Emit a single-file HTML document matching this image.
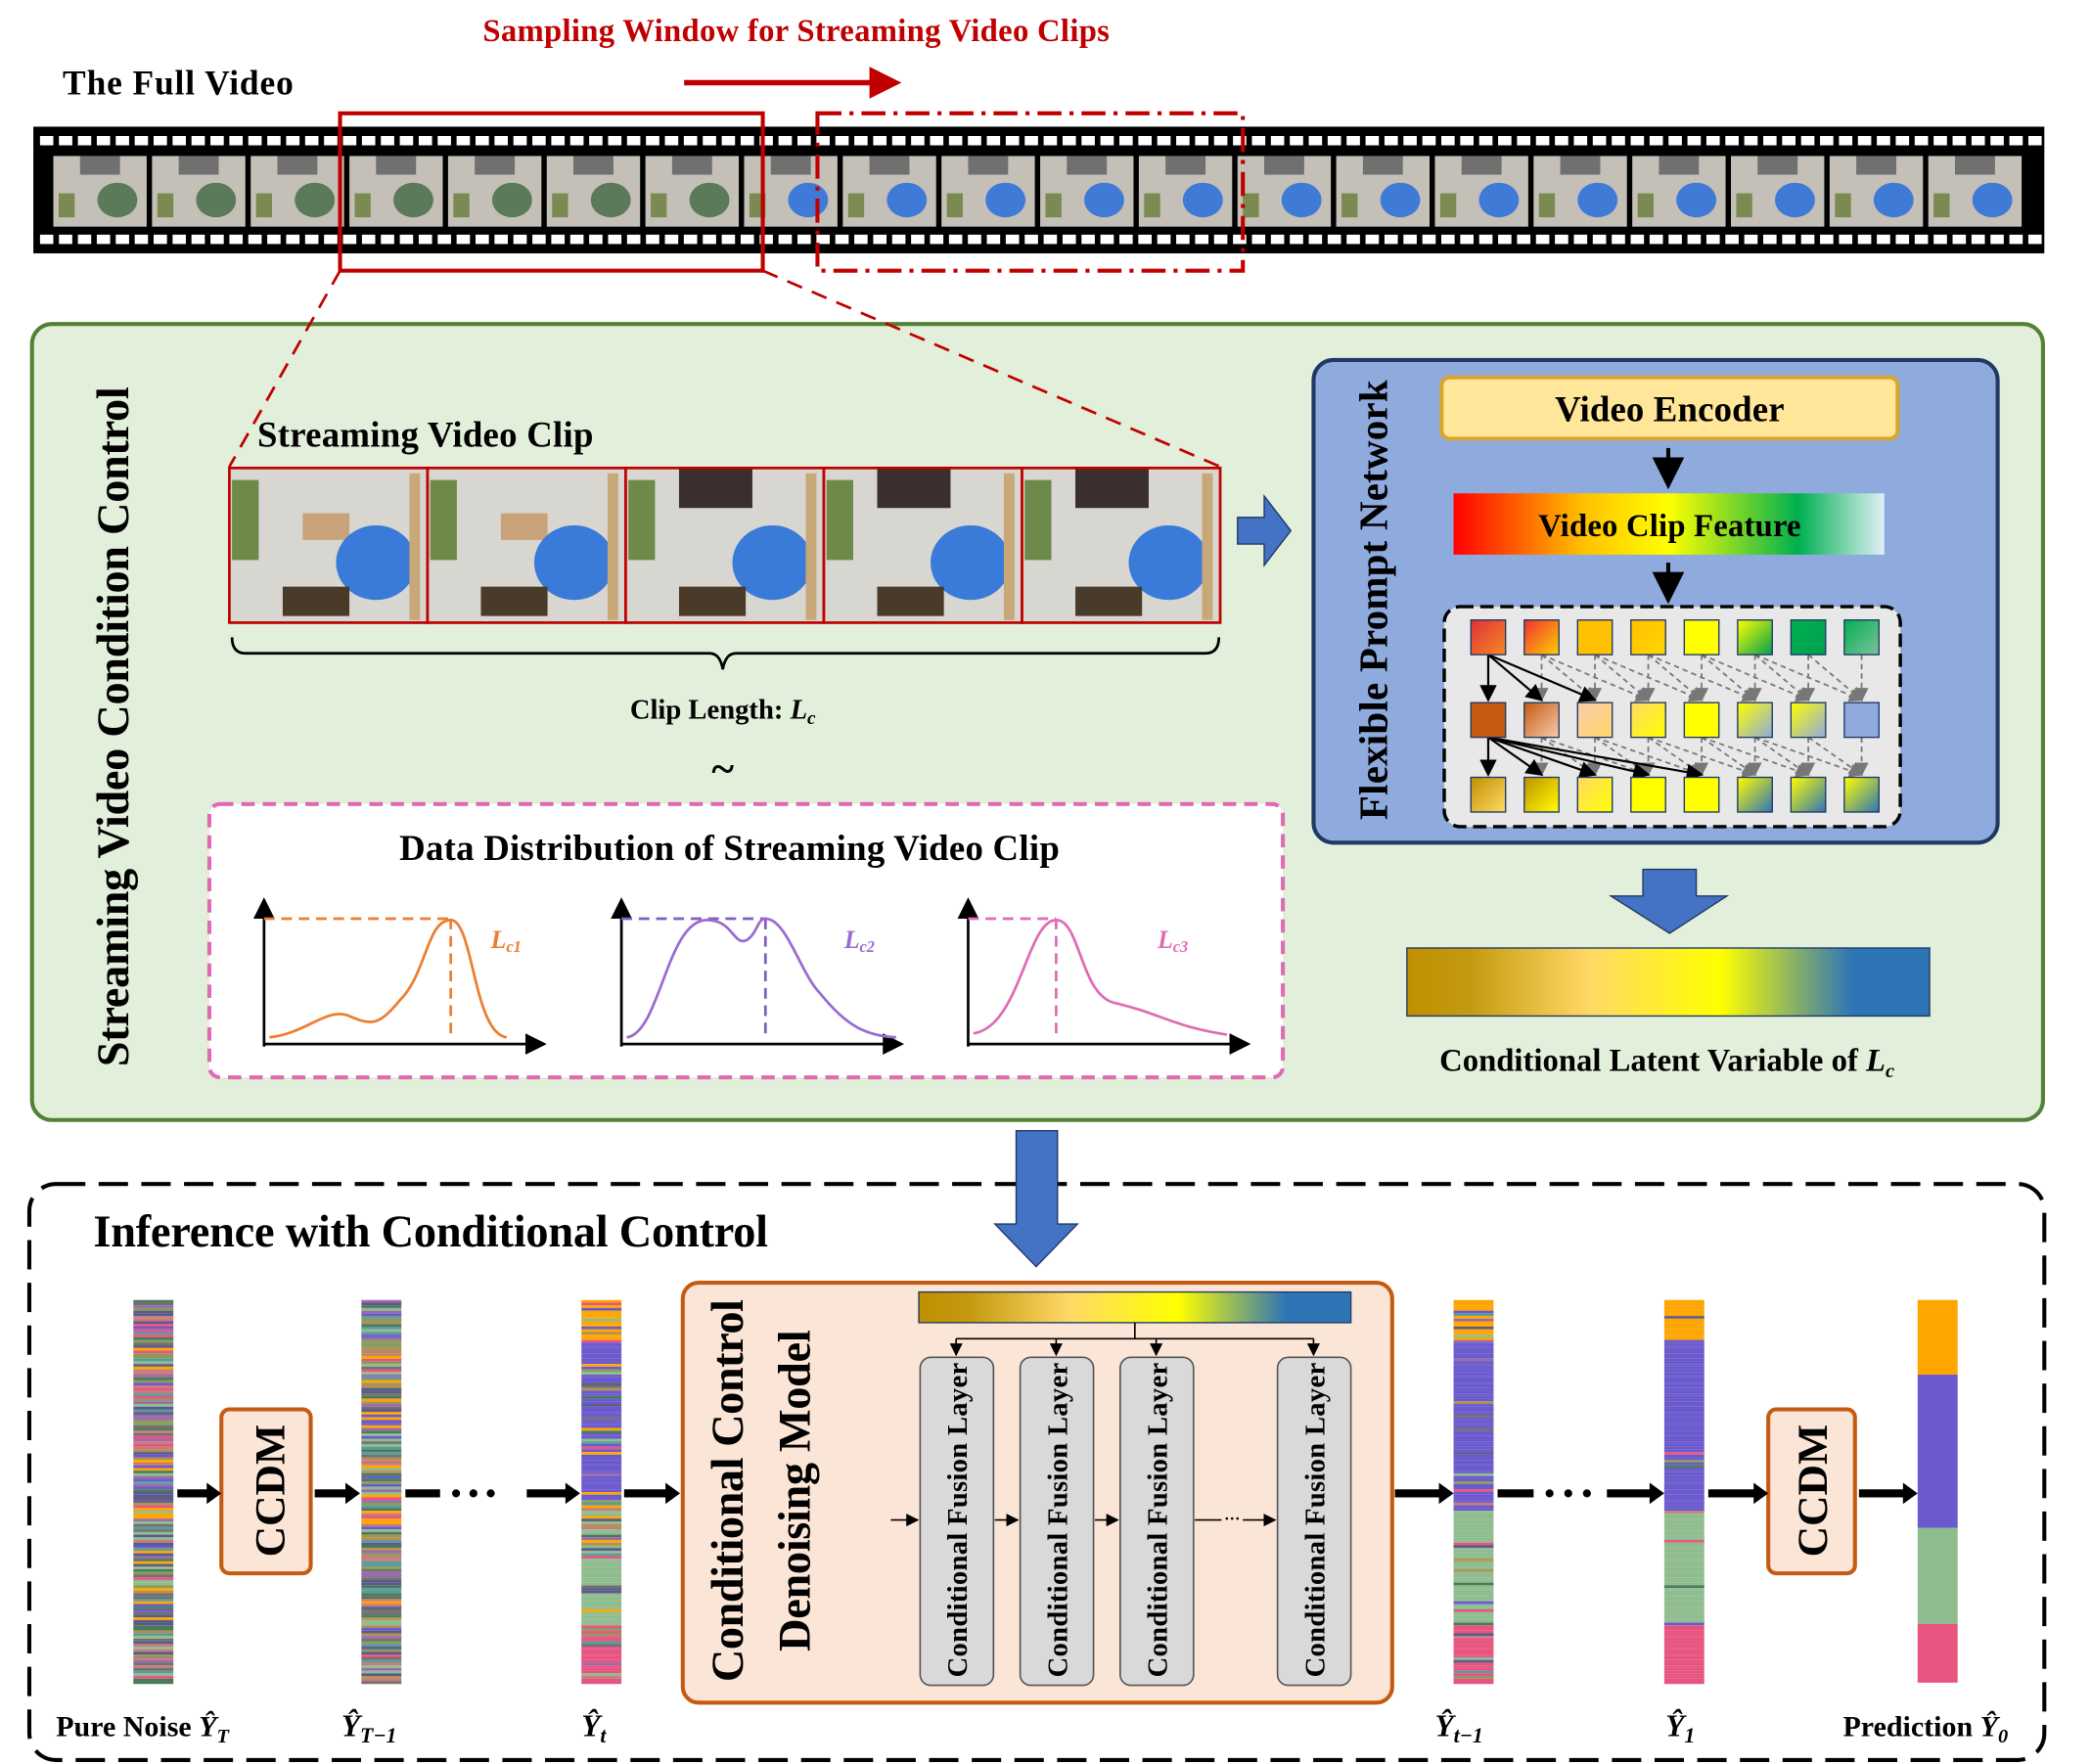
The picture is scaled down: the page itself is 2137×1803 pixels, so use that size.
<!DOCTYPE html>
<html><head><meta charset="utf-8"><style>
html,body{margin:0;padding:0;background:#fff}
svg{display:block}
text{font-family:"Liberation Serif",serif;font-weight:bold;fill:#000}
</style></head><body>
<svg id="s" width="2137" height="1803" viewBox="0 0 1568 1323" preserveAspectRatio="none" xmlns="http://www.w3.org/2000/svg">
<defs>
<linearGradient id="lat" x1="0" x2="1"><stop offset="0" stop-color="#bf9000"/><stop offset="0.12" stop-color="#c49a10"/><stop offset="0.35" stop-color="#ffd966"/><stop offset="0.6" stop-color="#ffff00"/><stop offset="0.85" stop-color="#2e75b6"/><stop offset="1" stop-color="#2e75b6"/></linearGradient>
<linearGradient id="vcf" x1="0" x2="1"><stop offset="0" stop-color="#ff0000"/><stop offset="0.3" stop-color="#ffc000"/><stop offset="0.5" stop-color="#ffff00"/><stop offset="0.8" stop-color="#00b050"/><stop offset="1" stop-color="#e0f0f8"/></linearGradient>
<marker id="ah" markerWidth="8" markerHeight="8" refX="7" refY="4" orient="auto"><path d="M0,0L8,4L0,8z" fill="#000"/></marker>
<marker id="ahg" markerWidth="8" markerHeight="8" refX="7" refY="4" orient="auto"><path d="M0,0L8,4L0,8z" fill="#777"/></marker>
<marker id="ahr" markerWidth="6" markerHeight="6" refX="5" refY="3" orient="auto"><path d="M0,0L6,3L0,6z" fill="#c00000"/></marker>
</defs>

<text x="597" y="31" font-size="24" text-anchor="middle" style="fill:#c00000" textLength="470">Sampling Window for Streaming Video Clips</text>
<line x1="513" y1="62" x2="672" y2="62" stroke="#c00000" stroke-width="4" marker-end="url(#ahr)"/>
<text x="47" y="71" font-size="26" textLength="173">The Full Video</text>

<rect x="25" y="95" width="1508" height="95" fill="#000"/>
<g id="film"></g>
<rect x="255" y="85" width="317" height="118" fill="none" stroke="#c00000" stroke-width="3"/>
<rect x="613" y="85" width="319" height="118" fill="none" stroke="#c00000" stroke-width="3" stroke-dasharray="18,6,3,6"/>

<rect x="24" y="243" width="1508" height="597" rx="15" fill="#e2efda" stroke="#548235" stroke-width="3"/>
<line x1="255" y1="203" x2="172" y2="350" stroke="#c00000" stroke-width="2" stroke-dasharray="12,8"/>
<line x1="572" y1="203" x2="915" y2="350" stroke="#c00000" stroke-width="2" stroke-dasharray="12,8"/>
<text transform="translate(96,545) rotate(-90)" font-size="34" text-anchor="middle" textLength="510">Streaming Video Condition Control</text>
<text x="193" y="335" font-size="27" textLength="252">Streaming Video Clip</text>
<g id="clip"></g>
<path d="M174,478 q0,12 10,12 L532,490 q8,0 10,12 q2,-12 10,-12 L904,490 q10,0 10,-12" fill="none" stroke="#000" stroke-width="2"/>
<text x="542" y="539" font-size="21" text-anchor="middle">Clip Length: <tspan font-style="italic">L</tspan><tspan font-style="italic" font-size="14" dy="4">c</tspan></text>
<text x="542" y="587" font-size="32" text-anchor="middle">~</text>

<rect x="157" y="603" width="805" height="205" rx="8" fill="#fff" stroke="#e06bb5" stroke-width="3" stroke-dasharray="10,6"/>
<text x="547" y="645" font-size="27" text-anchor="middle" textLength="495">Data Distribution of Streaming Video Clip</text>
<g stroke="#000" stroke-width="2" fill="none">
<path d="M198,785 L198,675" marker-end="url(#ah)"/><path d="M198,783 L408,783" marker-end="url(#ah)"/>
<path d="M466,785 L466,675" marker-end="url(#ah)"/><path d="M466,783 L676,783" marker-end="url(#ah)"/>
<path d="M726,785 L726,675" marker-end="url(#ah)"/><path d="M726,783 L936,783" marker-end="url(#ah)"/>
</g>
<g fill="none" stroke-width="2">
<path d="M198,689 L338,689 M338,689 L338,780" stroke="#ed7d31" stroke-dasharray="8,5"/>
<path d="M202,778 C230,775 245,755 262,762 C280,770 285,768 300,750 C320,730 320,690 338,690 C355,690 355,775 380,778" stroke="#ed7d31"/>
<path d="M466,689 L574,689 M574,689 L574,780" stroke="#7f5fc0" stroke-dasharray="8,5"/>
<path d="M470,778 C495,775 500,690 530,690 C550,690 550,710 560,705 C568,700 568,689 574,689 C590,689 600,730 615,745 C635,770 650,777 672,778" stroke="#9a6ad0"/>
<path d="M726,689 L792,689 M792,689 L792,780" stroke="#e06bb5" stroke-dasharray="8,5"/>
<path d="M730,775 C765,770 770,690 792,690 C810,690 810,745 835,752 C870,760 880,770 920,776" stroke="#e06bb5"/>
</g>
<text x="368" y="711" font-size="19" font-style="italic" style="fill:#ed7d31">L<tspan font-size="12" dy="3">c1</tspan></text>
<text x="633" y="711" font-size="19" font-style="italic" style="fill:#9a6ad0">L<tspan font-size="12" dy="3">c2</tspan></text>
<text x="868" y="711" font-size="19" font-style="italic" style="fill:#e06bb5">L<tspan font-size="12" dy="3">c3</tspan></text>

<path d="M928,388 L948,388 L948,372 L968,398 L948,424 L948,408 L928,408 z" fill="#4472c4" stroke="#203864" stroke-width="1"/>

<rect x="985" y="270" width="513" height="362" rx="15" fill="#8faadc" stroke="#203864" stroke-width="3"/>
<text transform="translate(1040,450) rotate(-90)" font-size="30" text-anchor="middle" textLength="330">Flexible Prompt Network</text>
<rect x="1081" y="283" width="342" height="46" rx="6" fill="#ffe699" stroke="#d6a630" stroke-width="3"/>
<text x="1252" y="316" font-size="27" text-anchor="middle" textLength="172">Video Encoder</text>
<line x1="1251" y1="336" x2="1251" y2="364" stroke="#000" stroke-width="3" marker-end="url(#ah)"/>
<rect x="1090" y="370" width="323" height="46" fill="url(#vcf)"/>
<text x="1252" y="402" font-size="24" text-anchor="middle" textLength="197">Video Clip Feature</text>
<line x1="1251" y1="422" x2="1251" y2="450" stroke="#000" stroke-width="3" marker-end="url(#ah)"/>
<rect x="1083" y="455" width="342" height="165" rx="12" fill="#e8e8e8" stroke="#000" stroke-width="2.5" stroke-dasharray="10,5"/>
<g id="grid"></g>

<path d="M1232,652 L1272,652 L1272,672 L1295,672 L1252,700 L1208,672 L1232,672 z" fill="#4472c4" stroke="#203864"/>
<rect x="1055" y="711" width="392" height="51" fill="url(#lat)" stroke="#203864"/>
<text x="1250" y="803" font-size="24" text-anchor="middle">Conditional Latent Variable of <tspan font-style="italic">L</tspan><tspan font-style="italic" font-size="15" dy="5">c</tspan></text>

<rect x="22" y="888" width="1511" height="432" rx="20" fill="none" stroke="#000" stroke-width="3" stroke-dasharray="22,10"/>
<path d="M762,848 L793,848 L793,918 L808,918 L777,950 L746,918 L762,918 z" fill="#4472c4" stroke="#203864"/>
<text x="70" y="935" font-size="34" textLength="506">Inference with Conditional Control</text>

<g id="bars"></g>
<rect x="166" y="1057" width="67" height="123" rx="6" fill="#fbe5d6" stroke="#c55a11" stroke-width="3"/>
<text transform="translate(213,1118) rotate(-90)" font-size="32" text-anchor="middle">CCDM</text>
<rect x="1326" y="1057" width="65" height="123" rx="6" fill="#fbe5d6" stroke="#c55a11" stroke-width="3"/>
<text transform="translate(1370,1118) rotate(-90)" font-size="32" text-anchor="middle">CCDM</text>
<g stroke="#000" stroke-width="6" fill="none">
<path d="M133,1120 L158,1120"/><path d="M236,1120 L262,1120"/><path d="M304,1120 L330,1120"/><path d="M395,1120 L427,1120"/><path d="M468,1120 L502,1120"/>
<path d="M1046,1120 L1082,1120"/><path d="M1123,1120 L1150,1120"/><path d="M1205,1120 L1240,1120"/><path d="M1281,1120 L1318,1120"/><path d="M1394,1120 L1430,1120"/>
</g>
<g fill="#000"><path d="M155,1112 L166,1120 L155,1128z"/><path d="M259,1112 L270,1120 L259,1128z"/><path d="M424,1112 L435,1120 L424,1128z"/><path d="M499,1112 L510,1120 L499,1128z"/><path d="M1079,1112 L1090,1120 L1079,1128z"/><path d="M1237,1112 L1248,1120 L1237,1128z"/><path d="M1315,1112 L1326,1120 L1315,1128z"/><path d="M1427,1112 L1438,1120 L1427,1128z"/>
<circle cx="342" cy="1120" r="3"/><circle cx="355" cy="1120" r="3"/><circle cx="368" cy="1120" r="3"/><circle cx="1162" cy="1120" r="3"/><circle cx="1176" cy="1120" r="3"/><circle cx="1190" cy="1120" r="3"/></g>

<rect x="512" y="962" width="532" height="315" rx="12" fill="#fbe5d6" stroke="#c55a11" stroke-width="3"/>
<text transform="translate(557,1118) rotate(-90)" font-size="34" text-anchor="middle" textLength="287">Conditional Control</text>
<text transform="translate(607,1118) rotate(-90)" font-size="34" text-anchor="middle" textLength="241">Denoising Model</text>
<rect x="689" y="969" width="324" height="23" fill="url(#lat)" stroke="#203864"/>
<g stroke="#000" stroke-width="1.2" fill="none">
<path d="M851,992 L851,1004 M717,1004 L985,1004"/>
<path d="M717,1004 L717,1016" marker-end="url(#ah)"/><path d="M792,1004 L792,1016" marker-end="url(#ah)"/><path d="M867,1004 L867,1016" marker-end="url(#ah)"/><path d="M985,1004 L985,1016" marker-end="url(#ah)"/>
<path d="M668,1140 L688,1140" marker-end="url(#ah)"/><path d="M746,1140 L763,1140" marker-end="url(#ah)"/><path d="M821,1140 L838,1140" marker-end="url(#ah)"/><path d="M896,1140 L916,1140"/><path d="M932,1140 L956,1140" marker-end="url(#ah)"/>
</g>
<text x="924" y="1143" font-size="12" text-anchor="middle">···</text>
<g id="layers"></g>

<text x="42" y="1302" font-size="22">Pure Noise <tspan font-style="italic">Ŷ</tspan><tspan font-style="italic" font-size="15" dy="5">T</tspan></text>
<text x="256" y="1302" font-size="23" font-style="italic">Ŷ<tspan font-size="16" dy="5">T−1</tspan></text>
<text x="436" y="1302" font-size="23" font-style="italic">Ŷ<tspan font-size="16" dy="5">t</tspan></text>
<text x="1076" y="1302" font-size="23" font-style="italic">Ŷ<tspan font-size="16" dy="5">t−1</tspan></text>
<text x="1249" y="1302" font-size="23" font-style="italic">Ŷ<tspan font-size="16" dy="5">1</tspan></text>
<text x="1382" y="1302" font-size="22">Prediction <tspan font-style="italic">Ŷ</tspan><tspan font-style="italic" font-size="15" dy="5">0</tspan></text>
</svg>
<script>
var NS="http://www.w3.org/2000/svg";
function el(p,t,a){var e=document.createElementNS(NS,t);for(var k in a)e.setAttribute(k,a[k]);p.appendChild(e);return e;}
var seed=7;function rnd(){seed=(seed*16807)%2147483647;return seed/2147483647;}
var f=document.getElementById('film');
for(var x=30;x<1525;x+=14.2){el(f,'rect',{x:x,y:102,width:10,height:7,fill:'#fff'});el(f,'rect',{x:x,y:176,width:10,height:7,fill:'#fff'});}
for(var i=0;i<20;i++){var fx=40+i*74;
el(f,'rect',{x:fx,y:117,width:70,height:53,fill:'#c4c0b8'});
el(f,'rect',{x:fx+20,y:117,width:30,height:14,fill:'#707070'});
el(f,'ellipse',{cx:fx+48,cy:150,rx:15,ry:13,fill:i<7?'#5a7a5a':'#3f7ad6'});
el(f,'rect',{x:fx+4,y:145,width:12,height:18,fill:'#7a8a50'});}
var c=document.getElementById('clip');
for(var i=0;i<5;i++){var cx=172+i*148.6;
el(c,'rect',{x:cx,y:351,width:148.6,height:116,fill:'#d8d6d0'});
el(c,'rect',{x:cx+40,y:351,width:55,height:30,fill:i>=2?'#3a2e2e':'#d8d6d0'});
el(c,'rect',{x:cx+55,y:385,width:35,height:20,fill:'#c9a27a',opacity:i<2?1:0});
el(c,'ellipse',{cx:cx+110,cy:422,rx:30,ry:28,fill:'#3a7ad8'});
el(c,'rect',{x:cx+2,y:360,width:20,height:60,fill:'#6d8a4a'});
el(c,'rect',{x:cx+40,y:440,width:50,height:22,fill:'#4a3a2a'});
el(c,'rect',{x:cx+135,y:355,width:8,height:110,fill:'#c8a878'});
el(c,'rect',{x:cx,y:351,width:148.6,height:116,fill:'none',stroke:'#c00000','stroke-width':2});}
var g=document.getElementById('grid');
var rows=[465,527,583];
var cols=[['#e0303a','#f58a20'],['#f03030','#ffd000'],['#ffc000','#ffc000'],['#ffc000','#ffd700'],['#ffff00','#ffff00'],['#ffff00','#00a050'],['#00b050','#00a050'],['#00b050','#80c0a0']];
var r2=[['#c55a11','#c55a11'],['#c55a11','#f8cbad'],['#f8cbad','#ffd966'],['#ffd966','#ffff00'],['#ffff00','#ffff00'],['#ffff00','#8faadc'],['#ffff00','#8faadc'],['#8faadc','#8faadc']];
var r3=[['#bf9000','#ffd966'],['#bf9000','#ffff00'],['#ffd966','#ffff00'],['#ffff00','#ffff00'],['#ffff00','#ffff00'],['#ffff00','#2e75b6'],['#ffff00','#2e75b6'],['#ffff00','#2e75b6']];
var defs=document.querySelector('defs');
function grad(a,b){var id='g'+Math.floor(rnd()*1e9);var lg=el(defs,'linearGradient',{id:id,x1:0,y1:0,x2:1,y2:1});el(lg,'stop',{offset:0,'stop-color':a});el(lg,'stop',{offset:1,'stop-color':b});return 'url(#'+id+')';}
for(var j=0;j<8;j++){var x=1116+j*40;
for(var k=j+1;k<8&&k<j+3;k++){el(g,'line',{x1:x,y1:rows[0]+26,x2:1116+k*40,y2:rows[1]-2,stroke:'#777','stroke-width':1.3,'stroke-dasharray':'4,3','marker-end':'url(#ahg)'});
el(g,'line',{x1:x,y1:rows[1]+26,x2:1116+k*40,y2:rows[2]-2,stroke:'#777','stroke-width':1.3,'stroke-dasharray':'4,3','marker-end':'url(#ahg)'});}
el(g,'line',{x1:x,y1:rows[0]+26,x2:x,y2:rows[1]-2,stroke:'#777','stroke-width':1.3,'stroke-dasharray':'4,3','marker-end':'url(#ahg)'});
el(g,'line',{x1:x,y1:rows[1]+26,x2:x,y2:rows[2]-2,stroke:'#777','stroke-width':1.3,'stroke-dasharray':'4,3','marker-end':'url(#ahg)'});}
[0,1,2].forEach(function(k){el(g,'line',{x1:1116,y1:491,x2:1116+k*40,y2:525,stroke:'#000','stroke-width':1.6,'marker-end':'url(#ah)'});});
[0,1,2,3,4].forEach(function(k){el(g,'line',{x1:1116,y1:553,x2:1116+k*40,y2:581,stroke:'#000','stroke-width':1.6,'marker-end':'url(#ah)'});});
[[rows[0],cols],[rows[1],r2],[rows[2],r3]].forEach(function(r){for(var j=0;j<8;j++){el(g,'rect',{x:1103+j*40,y:r[0],width:26,height:26,fill:grad(r[1][j][0],r[1][j][1]),stroke:'#203864','stroke-width':1});}});
var b=document.getElementById('bars');
var pal=['#ffa500','#6a5acd','#8fbc8f','#e75480','#c87a7a','#5a9a9a','#8a9a5a','#9a6aaa','#707070','#b09050','#5a5a8a','#4a7a5a'];
function noise(x,y,w,h,mix){for(var yy=y;yy<y+h;yy+=2){var t=(yy-y)/h;var col;
if(mix>=1){col=pal[Math.floor(rnd()*pal.length)];}
else{var base=t<0.11?0:t<0.55?1:t<0.85?2:3;col=rnd()<mix?pal[Math.floor(rnd()*pal.length)]:pal[base];}
el(b,'rect',{x:x,y:yy,width:w,height:2,fill:col});}}
noise(100,975,30,287,1);noise(271,975,30,287,1);noise(436,975,30,287,0.45);noise(1090,975,30,287,0.2);noise(1248,975,30,287,0.05);noise(640,1050,25,180,0.4);
var segs=[[975,1031,'#ffa500'],[1031,1146,'#6a5acd'],[1146,1218,'#8fbc8f'],[1218,1262,'#e75480']];
segs.forEach(function(s){el(b,'rect',{x:1438,y:s[0],width:30,height:s[1]-s[0],fill:s[2]});});
var L=document.getElementById('layers');
[690,765,840,958].forEach(function(x){el(L,'rect',{x:x,y:1018,width:55,height:246,rx:8,fill:'#d9d9d9',stroke:'#555','stroke-width':1.2});
var t=el(L,'text',{transform:'translate('+(x+35)+',1140) rotate(-90)','font-size':21,'text-anchor':'middle',textLength:236});t.textContent='Conditional Fusion Layer';});
</script>
</body></html>
